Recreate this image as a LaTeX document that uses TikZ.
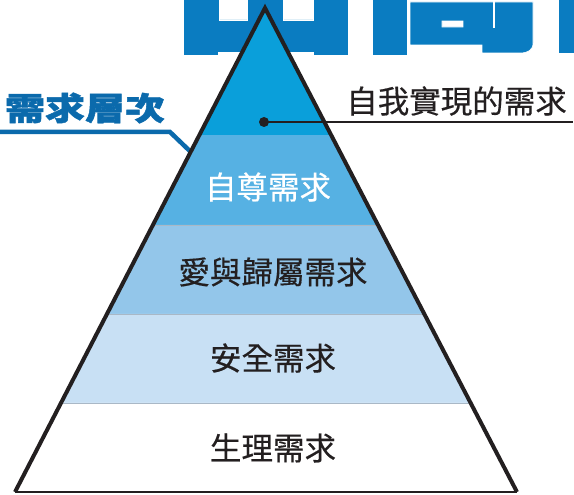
\documentclass[tikz,border=0pt]{standalone}
\usepackage{fontspec}
\usetikzlibrary{calc}
\newfontfamily\cjk{Noto Sans CJK TC}
\newfontfamily\cjkmed[FakeBold=0.4]{Noto Sans CJK TC}
\newfontfamily\cjkheavy[FakeBold=1.3]{Noto Sans CJK TC}
\definecolor{titleblue}{HTML}{0A7CC1}
\definecolor{labelblue}{HTML}{0B6AAC}
\definecolor{lay1}{HTML}{0A9FDA}
\definecolor{lay2}{HTML}{56B1E3}
\definecolor{lay3}{HTML}{93C6EA}
\definecolor{lay4}{HTML}{C8E0F4}
\definecolor{ink}{HTML}{231F20}
\definecolor{sepgrey}{HTML}{A9B8C6}
\tikzset{
  layertext/.style={font=\cjkmed\fontsize{31.5}{33}\selectfont, text=ink, inner sep=0pt},
  sep/.style={draw=sepgrey, line width=0.8pt},
  outline/.style={draw=ink, line width=4pt, line join=miter},
  glyph/.style={fill=titleblue, draw=white, line width=0.6pt}
}
\begin{document}
\begin{tikzpicture}[x=1pt,y=-1pt]
\useasboundingbox (0,0) rectangle (574,495);
% cropped big title glyphs
\fill[glyph, even odd rule] (183,-2) -- (348,-2) -- (348,55) -- (313,55) -- (313,52) -- (218,52) -- (218,55) -- (183,55) -- cycle
  (219,-2) rectangle (247,20) (283,-2) rectangle (313,20);
\fill[glyph] (372,-2) rectangle (407,55);
\fill[glyph, even odd rule] (410,2) -- (533,2) -- (533,43) .. controls (533,50) and (528,53) .. (520,53) -- (482,53) -- (482,45) -- (410,45) -- cycle
  (442,21) rectangle (463,27);
\fill[white] (492.5,-2) rectangle (495,28);
\fill[glyph] (558,-2) rectangle (576,53);
% pyramid corners
\coordinate (A) at (265,8);
\coordinate (BL) at (15,492);
\coordinate (BR) at (517,492);
\foreach \n/\t in {1/0.2624,2/0.4483,3/0.6322,4/0.8161}{
  \coordinate (L\n) at ($(A)!\t!(BL)$);
  \coordinate (R\n) at ($(A)!\t!(BR)$);
}
% left label and its line
\node[font=\cjkheavy\bfseries\fontsize{32}{34}\selectfont, text=labelblue, inner sep=0pt, xscale=1.25] (lbl) at (85,108) {需求層次};
\coordinate (lstart) at (0,132);
\coordinate (lbend) at (170,132);
\coordinate (lend) at (195,156);
\draw[white, line width=7pt] (lstart) -- (lbend) -- (lend);
\draw[labelblue, line width=4.5pt] (lstart) -- (lbend) -- (lend);
% layers
\fill[lay1] (A) -- (R1) -- (L1) -- cycle;
\fill[lay2] (L1) -- (R1) -- (R2) -- (L2) -- cycle;
\fill[lay3] (L2) -- (R2) -- (R3) -- (L3) -- cycle;
\fill[lay4] (L3) -- (R3) -- (R4) -- (L4) -- cycle;
\fill[white] (L4) -- (R4) -- (BR) -- (BL) -- cycle;
\draw[sep] (L2) -- (R2);
\draw[sep] (L3) -- (R3);
\draw[sep] (L4) -- (R4);
% outline
\draw[outline] (BL) -- (A) -- (BR);
\draw[ink, line width=2pt] (BL) -- (BR);
% layer texts
\node[layertext, text=white] (esteem) at (268,187) {自尊需求};
\node[layertext] (love) at (273,272) {愛與歸屬需求};
\node[layertext] (safety) at (273,358) {安全需求};
\node[layertext] (phys) at (273,448) {生理需求};
% self-actualisation label
\node[layertext, anchor=east] (selfact) at (567,101) {自我實現的需求};
\coordinate (dot) at (264,122);
\coordinate (lineend) at (573,122);
\fill[ink] (dot) circle (5pt);
\draw[ink, line width=1.2pt] (dot) -- (lineend);
\end{tikzpicture}
\end{document}
